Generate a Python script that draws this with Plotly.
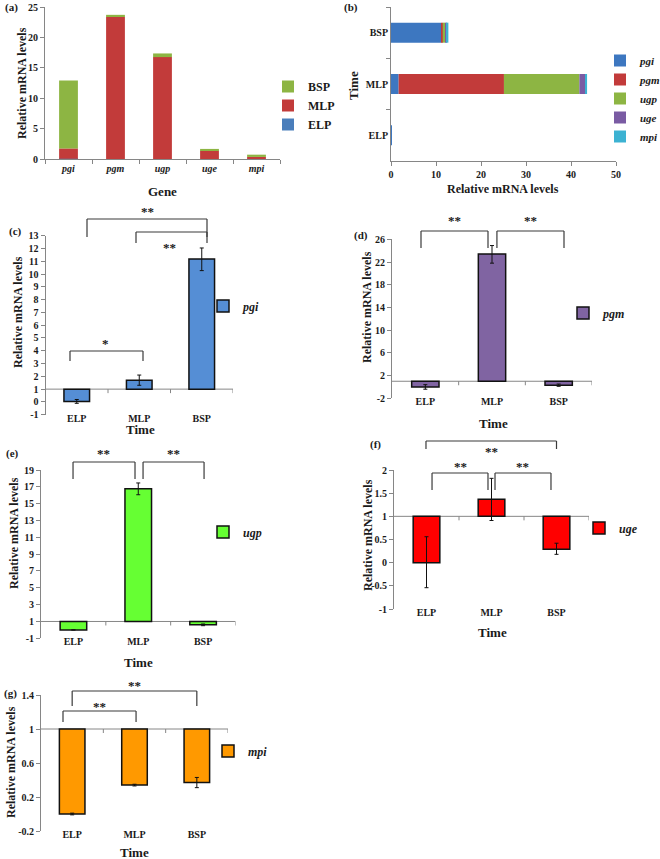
import numpy as np
import plotly.graph_objects as go

W, H = 660, 859
FONT = "Liberation Serif"
AXIS_GREY = "#868686"
INK = "#1a1a1a"
BRACKET = "#3a3a3a"

genes = ["pgi", "pgm", "ugp", "uge", "mpi"]
stages = ["ELP", "MLP", "BSP"]

# relative mRNA levels (mean) at ELP, MLP, BSP for each gene
pgi = [0.04, 1.70, 11.18]
pgm = [0.00, 23.40, 0.31]
ugp = [0.00, 16.76, 0.60]
uge = [0.00, 1.37, 0.29]
mpi = [0.00, 0.34, 0.37]

# error bars (upper / lower)
pgi_hi = [0.15, 0.40, 0.86]
pgi_lo = [0.15, 0.40, 0.91]
pgm_hi = [0.40, 1.50, 0.20]
pgm_lo = [0.40, 1.60, 0.20]
ugp_hi = [0.00, 0.70, 0.10]
ugp_lo = [0.00, 0.70, 0.10]
uge_hi = [0.56, 0.45, 0.13]
uge_lo = [0.54, 0.46, 0.11]
mpi_hi = [0.01, 0.01, 0.06]
mpi_lo = [0.01, 0.01, 0.06]

# tick labels
a_yticks = [0, 5, 10, 15, 20, 25]
b_xticks = [0, 10, 20, 30, 40, 50]
c_yticks = [-1, 0, 1, 2, 3, 4, 5, 6, 7, 8, 9, 10, 11, 12, 13]
d_yticks = [-2, 2, 6, 10, 14, 18, 22, 26]
e_yticks = [-1, 1, 3, 5, 7, 9, 11, 13, 15, 17, 19]
f_yticks = [-1, -0.5, 0, 0.5, 1, 1.5, 2]
f_ytext = ["-1", "-0.5", "0", "0.5", "1", "1.5", "2"]
g_yticks = [-0.2, 0.2, 0.6, 1, 1.4]
g_ytext = ["-0.2", "0.2", "0.6", "1", "1.4"]

BASELINE = 1  # bars in (c)-(g) hang from relative level 1


def fx(px):
    return px / W


def fy(py):
    return 1 - py / H


fig = go.Figure()
shapes = []
annos = []

tickfont = dict(family=FONT, size=10, color=INK, weight="bold")
LEG_TEXT_OFF = 34  # plotly legend text sits ~40px right of legend x


def add_text(x, y, text, size=12, angle=0, xref="paper", style="normal", weight="bold", xanchor="center"):
    annos.append(dict(
        x=x if xref != "paper" else fx(x), y=fy(y), xref=xref, yref="paper",
        text=text, showarrow=False, textangle=angle, xanchor=xanchor, yanchor="middle",
        font=dict(family=FONT, size=size, color=INK, style=style, weight=weight)))


# ---------------- panel (a): stacked by gene ----------------
table = np.array([pgi, pgm, ugp, uge, mpi])  # genes x stages
colors_a = {"ELP": "#4a7ebb", "MLP": "#c23b3a", "BSP": "#8db543"}
base_a = np.zeros(len(genes))
for j, st in enumerate(stages):
    vals = table[:, j]
    fig.add_trace(go.Bar(
        x=genes, y=vals, base=base_a.copy(), name=st, width=0.4,
        marker=dict(color=colors_a[st], line=dict(width=0)),
        xaxis="x", yaxis="y", legend="legend"))
    base_a = base_a + vals

# ---------------- panel (b): stacked by stage ----------------
colors_b = ["#3d77c0", "#c23b3a", "#8db543", "#7a5ba3", "#3cb2d2"]
base_b = np.zeros(len(stages))
for i, g in enumerate(genes):
    vals = table[i, :]
    fig.add_trace(go.Bar(
        y=stages, x=vals, base=base_b.copy(), orientation="h",
        name=f"<i>{g}</i>", width=0.39,
        marker=dict(color=colors_b[i], line=dict(width=0)),
        xaxis="x2", yaxis="y2", legend="legend2"))
    base_b = base_b + vals

# ---------------- panels (c)-(g) ----------------
panels = [
    dict(lab="(c)", gene="pgi", vals=pgi, hi=pgi_hi, lo=pgi_lo, color="#558ed5",
         xd=(45.5, 233), yd=(235.7, 414.7), yr=(-1, 13), tv=c_yticks, tt=[str(v) for v in c_yticks],
         leg=(237, 306), lab_xy=(7, 231), ytitle=(18, 312), xtitle=(140, 429),
         brackets=[(0.164, 2.084, 219, 237, "**", 1.124, 211),
                   (0.948, 2.084, 232, 243, "**", 1.49, 247),
                   (-0.108, 1.06, 351, 361, "*", 0.46, 343)]),
    dict(lab="(d)", gene="pgm", vals=pgm, hi=pgm_hi, lo=pgm_lo, color="#8064a2",
         xd=(392, 592), yd=(239.3, 398.3), yr=(-2, 26), tv=d_yticks, tt=[str(v) for v in d_yticks],
         leg=(597, 313), lab_xy=(352, 235), ytitle=(367, 307), xtitle=(493, 423),
         brackets=[(-0.065, 0.94, 231, 248, "**", 0.44, 221),
                   (1.074, 2.08, 231, 248, "**", 1.58, 221)]),
    dict(lab="(e)", gene="ugp", vals=ugp, hi=ugp_hi, lo=ugp_lo, color="#66ff33",
         xd=(41, 235.5), yd=(470, 638.3), yr=(-1, 19), tv=e_yticks, tt=[str(v) for v in e_yticks],
         leg=(237, 532), lab_xy=(4, 453), ytitle=(14, 533), xtitle=(138, 662),
         brackets=[(-0.006, 0.95, 462, 479, "**", 0.47, 453),
                   (1.074, 2.015, 462, 479, "**", 1.55, 453)]),
    dict(lab="(f)", gene="uge", vals=uge, hi=uge_hi, lo=uge_lo, color="#ff0000",
         xd=(394, 589), yd=(470, 609), yr=(-1, 2), tv=f_yticks, tt=f_ytext,
         leg=(613, 528), lab_xy=(368, 445), ytitle=(368, 535), xtitle=(492, 632),
         brackets=[(-0.008, 2.0, 441, 449, "**", 1.0, 451),
                   (0.085, 0.946, 473, 490, "**", 0.52, 466),
                   (1.054, 1.915, 473, 490, "**", 1.48, 466)]),
    dict(lab="(g)", gene="mpi", vals=mpi, hi=mpi_hi, lo=mpi_lo, color="#ff9900",
         xd=(41, 228), yd=(695, 831), yr=(-0.2, 1.4), tv=g_yticks, tt=g_ytext,
         leg=(242, 751), lab_xy=(2, 693), ytitle=(11, 762), xtitle=(134, 852),
         brackets=[(0.0, 2.0, 691, 706, "**", 1.0, 685),
                   (-0.147, 1.025, 711, 722, "**", 0.44, 706)]),
]

layout_axes = {}
legends = {}
for k, p in enumerate(panels):
    n = k + 3
    xa, ya = f"x{n}", f"y{n}"
    fig.add_trace(go.Bar(
        x=stages, y=[v - BASELINE for v in p["vals"]], base=BASELINE,
        name=f"<i>{p['gene']}</i>", width=0.41,
        marker=dict(color=p["color"], line=dict(color="#111111", width=1.5)),
        error_y=dict(type="data", array=p["hi"], arrayminus=p["lo"], symmetric=False,
                     color="#111111", thickness=1, width=2),
        xaxis=xa, yaxis=ya, legend=f"legend{n}"))
    layout_axes[f"xaxis{n}"] = dict(
        domain=[fx(p["xd"][0]), fx(p["xd"][1])], anchor=ya, type="category",
        range=[-0.5, 2.5], showline=False, showgrid=False, zeroline=False,
        ticks="", ticklabelstandoff=-4, tickfont=tickfont)
    layout_axes[f"yaxis{n}"] = dict(
        domain=[fy(p["yd"][1]), fy(p["yd"][0])], anchor=xa, range=list(p["yr"]),
        tickvals=p["tv"], ticktext=p["tt"], showline=True, linecolor=AXIS_GREY, linewidth=1,
        ticks="outside", ticklen=4, tickcolor=AXIS_GREY, showgrid=False, zeroline=False,
        tickfont=tickfont)
    # baseline at relative level 1 with category boundary ticks
    shapes.append(dict(type="line", xref=xa, yref=ya, x0=-0.5, x1=2.5, y0=BASELINE, y1=BASELINE,
                       line=dict(color=AXIS_GREY, width=1), layer="below"))
    for b in [0.5, 1.5, 2.5]:
        shapes.append(dict(type="line", xref=xa, yref=ya, xsizemode="scaled", ysizemode="pixel",
                           yanchor=BASELINE, x0=b, x1=b, y0=0, y1=-4,
                           line=dict(color=AXIS_GREY, width=1)))
    # significance brackets
    for (b0, b1, ytop, yend, txt, tx, ty) in p["brackets"]:
        for (sx0, sy0, sx1, sy1) in [(b0, yend, b0, ytop), (b0, ytop, b1, ytop), (b1, ytop, b1, yend)]:
            shapes.append(dict(type="line", xref=xa, yref="paper", x0=sx0, x1=sx1,
                               y0=fy(sy0), y1=fy(sy1), line=dict(color=BRACKET, width=1.2)))
        add_text(tx, ty, txt, size=13, xref=xa)
    legends[f"legend{n}"] = dict(
        x=fx(p["leg"][0] - LEG_TEXT_OFF), y=fy(p["leg"][1]), xanchor="left", yanchor="middle",
        bgcolor="rgba(0,0,0,0)", itemwidth=30, tracegroupgap=0,
        font=dict(family=FONT, size=12, color=INK, weight="bold"))
    add_text(p["lab_xy"][0], p["lab_xy"][1], p["lab"], size=11, xanchor="left")
    add_text(p["ytitle"][0], p["ytitle"][1], "Relative mRNA levels", size=12, angle=-90)
    add_text(p["xtitle"][0], p["xtitle"][1], "Time", size=13)

# titles for (a) and (b)
add_text(3, 7, "(a)", size=11, xanchor="left")
add_text(342, 7, "(b)", size=11, xanchor="left")
add_text(22, 83, "Relative mRNA levels", size=12, angle=-90)
add_text(162, 192, "Gene", size=13)
add_text(503, 189, "Relative mRNA levels", size=12)
add_text(353, 85, "Time", size=13, angle=-90)

fig.update_layout(
    width=W, height=H, margin=dict(l=0, r=0, t=0, b=0, autoexpand=False),
    template="none", paper_bgcolor="white", plot_bgcolor="white",
    barmode="overlay", showlegend=True,
    font=dict(family=FONT, size=11, color=INK),
    xaxis=dict(domain=[fx(45), fx(280)], anchor="y", type="category", categoryarray=genes,
               range=[-0.5, 4.5], showline=True, linecolor=AXIS_GREY, ticks="outside",
               tickson="boundaries", ticklen=4, tickcolor=AXIS_GREY, showgrid=False,
               zeroline=False,
               tickfont=dict(family=FONT, size=10, color=INK, weight="bold", style="italic")),
    yaxis=dict(domain=[fy(159), fy(7)], anchor="x", range=[0, 25], tickvals=a_yticks,
               showline=True, linecolor=AXIS_GREY, ticks="outside", ticklen=4,
               tickcolor=AXIS_GREY, showgrid=False, zeroline=False, tickfont=tickfont),
    xaxis2=dict(domain=[fx(391), fx(616)], anchor="y2", range=[0, 50], tickvals=b_xticks,
                showline=True, linecolor=AXIS_GREY, ticks="outside", ticklen=4,
                tickcolor=AXIS_GREY, showgrid=False, zeroline=False, tickfont=tickfont),
    yaxis2=dict(domain=[fy(161), fy(7)], anchor="x2", type="category", categoryarray=stages,
                range=[-0.5, 2.5], showline=True, linecolor=AXIS_GREY, ticks="outside",
                tickson="boundaries", ticklen=4, tickcolor=AXIS_GREY, showgrid=False,
                zeroline=False, tickfont=tickfont),
    legend=dict(x=fx(302 - LEG_TEXT_OFF), y=fy(72), xanchor="left", yanchor="top",
                traceorder="reversed", bgcolor="rgba(0,0,0,0)", itemwidth=30,
                font=dict(family=FONT, size=12, color=INK, weight="bold")),
    legend2=dict(x=fx(600), y=fy(46), xanchor="left", yanchor="top", traceorder="normal",
                 bgcolor="rgba(0,0,0,0)", itemwidth=30,
                 font=dict(family=FONT, size=11, color=INK, weight="bold")),
    shapes=shapes, annotations=annos,
    **layout_axes, **legends,
)

fig.write_html("out.html", config={"displayModeBar": False},
               post_script="document.body.style.margin='0px';")
